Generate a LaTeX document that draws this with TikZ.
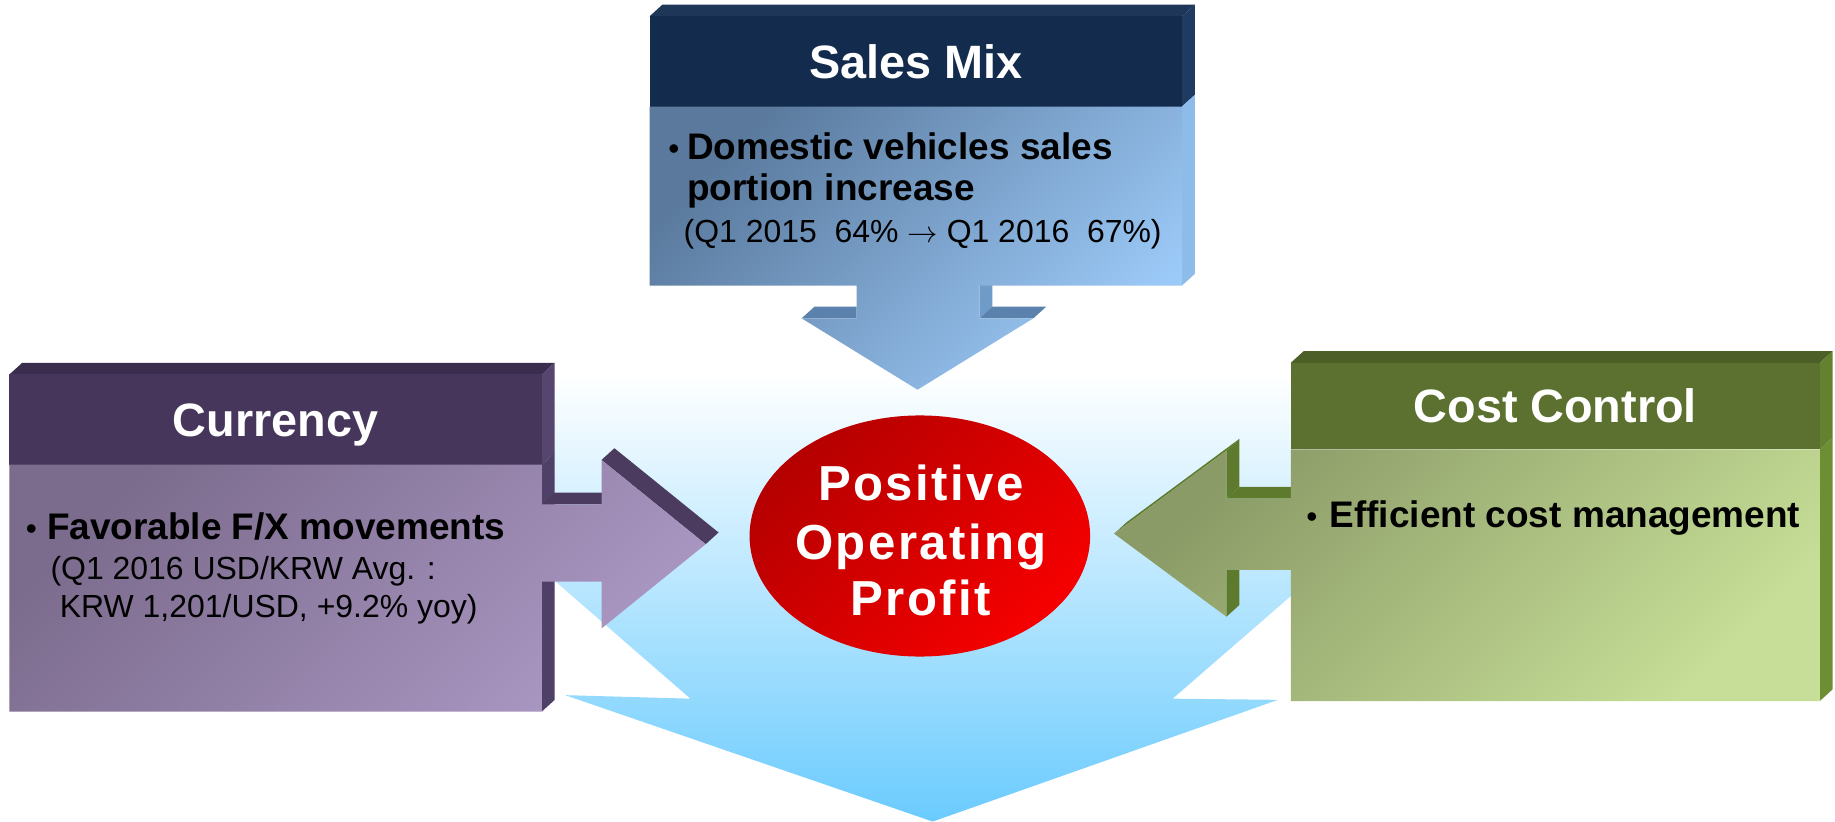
\documentclass[tikz,border=0pt]{standalone}
\usepackage{fontspec}
\setmainfont{Liberation Sans}
\newfontfamily\ellipsefont[LetterSpace=5]{Liberation Sans}
\usetikzlibrary{shapes.geometric}

% palette
\definecolor{skyB}{HTML}{6ACBFE}
\definecolor{smHead}{HTML}{132B4C}
\definecolor{smTop}{HTML}{1E3759}
\definecolor{smSideH}{HTML}{1F3B62}
\definecolor{smSideB}{HTML}{8DBCEB}
\definecolor{smBodyA}{HTML}{5A799D}
\definecolor{smBodyB}{HTML}{9CCAF8}
\definecolor{smEdge}{HTML}{6F9BC8}
\definecolor{smWing}{HTML}{5B82AD}
\definecolor{cuHead}{HTML}{46365B}
\definecolor{cuTop}{HTML}{3A2D4D}
\definecolor{cuSideH}{HTML}{56466F}
\definecolor{cuSideB}{HTML}{4F4068}
\definecolor{cuBodyA}{HTML}{7B6B8C}
\definecolor{cuBodyB}{HTML}{AA97C3}
\definecolor{cuEdge}{HTML}{4A3B5F}
\definecolor{ccHead}{HTML}{5C712F}
\definecolor{ccTop}{HTML}{4C5F27}
\definecolor{ccSideH}{HTML}{64812F}
\definecolor{ccSideB}{HTML}{6E8E33}
\definecolor{ccBodyA}{HTML}{8B9B67}
\definecolor{ccBodyB}{HTML}{C6DE97}
\definecolor{ccEdge}{HTML}{5E7A2C}
\definecolor{redA}{HTML}{B50000}
\definecolor{redB}{HTML}{F60000}

% a thin arrow one em wide for the text lines
\newcommand{\thinarrow}{\resizebox{26pt}{!}{$\rightarrow$}}

\begin{document}
\begin{tikzpicture}[x=1pt,y=-1pt,
  hdrtext/.style={font=\bfseries\fontsize{40}{48}\selectfont, text=white, anchor=base, inner sep=0pt},
  bullettext/.style={font=\fontsize{27}{32}\selectfont, anchor=base west, inner sep=0pt},
  boldline/.style={font=\bfseries\fontsize{31.6}{38}\selectfont, anchor=base west, inner sep=0pt},
  regline/.style={font=\fontsize{27.3}{33}\selectfont, anchor=base west, inner sep=0pt},
  ovaltext/.style={font=\ellipsefont\bfseries\fontsize{42}{49}\selectfont, text=white, anchor=base, inner sep=0pt},
  diag/.style={shading angle=45}]
\useasboundingbox (0,0) rectangle (1568,702);
\fill[white] (0,0) rectangle (1568,702);

% large background arrow pointing down
\shade[top color=white, bottom color=skyB]
  (271,320) -- (1321,320) -- (1002,597) -- (1092,598) -- (797,702)
  -- (483,594) -- (590,597) -- cycle;

% ---- Sales Mix block with downward arrow ----
\fill[smTop] (555,14) -- (566,4) -- (1021,4) -- (1010,14) -- cycle;
\fill[smSideH] (1010,14) -- (1021,4) -- (1021,81) -- (1010,91) -- cycle;
\fill[smSideB] (1010,91) -- (1021,81) -- (1021,234) -- (1010,244) -- cycle;
\fill[smEdge] (837,244) -- (848,234) -- (848,262) -- (837,272) -- cycle;
\fill[smWing] (685,272) -- (696,262) -- (732,262) -- (732,272) -- cycle;
\fill[smWing] (837,272) -- (848,262) -- (894,262) -- (883,272) -- cycle;
\fill[smHead] (555,14) rectangle (1010,91);
\shade[top color=smBodyA, bottom color=smBodyB, diag]
  (555,91) -- (1010,91) -- (1010,244) -- (837,244) -- (837,272) -- (883,272)
  -- (784,333) -- (685,272) -- (732,272) -- (732,244) -- (555,244) -- cycle;

% ---- Currency block with rightward arrow ----
\fill[cuTop] (8,320) -- (19,310) -- (474,310) -- (463,320) -- cycle;
\fill[cuSideH] (463,320) -- (474,310) -- (474,387) -- (463,397) -- cycle;
\fill[cuSideB] (463,397) -- (474,387) -- (474,598) -- (463,608) -- cycle;
\fill[cuEdge] (463,431) -- (474,421) -- (525,421) -- (514,431) -- cycle;
\fill[cuEdge] (514,393) -- (525,383) -- (614,455) -- (603,465) -- cycle;
\fill[cuHead] (8,320) rectangle (463,397);
\shade[top color=cuBodyA, bottom color=cuBodyB, diag]
  (8,397) -- (463,397) -- (463,431) -- (514,431) -- (514,393) -- (603,465)
  -- (514,537) -- (514,497) -- (463,497) -- (463,608) -- (8,608) -- cycle;

% ---- Cost Control block with leftward arrow ----
\fill[ccTop] (1103,310) -- (1114,300) -- (1566,300) -- (1555,310) -- cycle;
\fill[ccSideH] (1555,310) -- (1566,300) -- (1566,374) -- (1555,384) -- cycle;
\fill[ccSideB] (1555,384) -- (1566,374) -- (1566,589) -- (1555,599) -- cycle;
\fill[ccEdge] (1048,385) -- (1059,375) -- (1059,416) -- (1048,426) -- cycle;
\fill[ccEdge] (1048,426) -- (1059,416) -- (1103,416) -- (1103,426) -- cycle;
\fill[ccEdge] (1048,487) -- (1059,477) -- (1059,517) -- (1048,527) -- cycle;
\fill[ccEdge] (952,456) -- (963,446) -- (1059,375) -- (1048,385) -- cycle;
\fill[ccHead] (1103,310) rectangle (1555,384);
\shade[top color=ccBodyA, bottom color=ccBodyB, diag]
  (1103,384) -- (1555,384) -- (1555,599) -- (1103,599) -- (1103,487)
  -- (1048,487) -- (1048,527) -- (952,456) -- (1048,385) -- (1048,426)
  -- (1103,426) -- cycle;

% ---- central oval ----
\node[ellipse, minimum width=291pt, minimum height=206pt, inner sep=0pt,
      top color=redA, bottom color=redB, diag] (oval) at (786,458) {};
\node[ovaltext] (oval1) at (787,428) {Positive};
\node[ovaltext] (oval2) at (787,478) {Operating};
\node[ovaltext] (oval3) at (787,526) {Profit};

% ---- headings ----
\node[hdrtext] (smTitle) at (782.5,67) {Sales Mix};
\node[hdrtext] (cuTitle) at (235.5,373) {Currency};
\node[hdrtext] (ccTitle) at (1329,361) {Cost Control};

% ---- Sales Mix text ----
\node[bullettext] (smBullet) at (571,136) {•};
\node[boldline] (smLine1) at (587,136) {Domestic vehicles sales};
\node[boldline] (smLine2) at (587,171) {portion increase};
\node[regline] (smLine3) at (584,207) {(Q1 2015~~64\% \thinarrow{} Q1 2016~~67\%)};

% ---- Currency text ----
\node[bullettext] (cuBullet) at (22,461) {•};
\node[boldline] (cuLine1) at (40,461) {Favorable F/X movements};
\node[regline] (cuLine2) at (43,495) {(Q1 2016 USD/KRW Avg. :};
\node[regline] (cuLine3) at (51,528) {KRW 1,201/USD, +9.2\% yoy)};

% ---- Cost Control text ----
\node[bullettext] (ccBullet) at (1116,451) {•};
\node[boldline] (ccLine1) at (1136,451) {Efficient cost management};
\end{tikzpicture}
\end{document}
